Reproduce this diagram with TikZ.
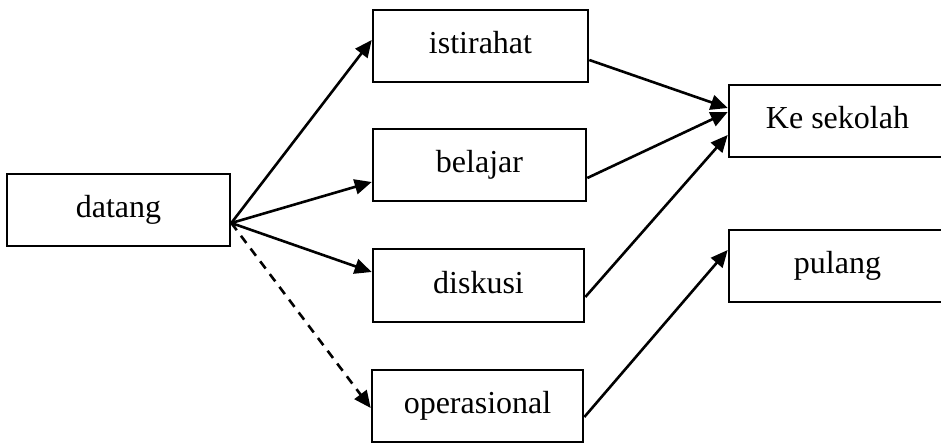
\documentclass[tikz,border=0pt]{standalone}
\usepackage{fontspec}
\setmainfont{Liberation Serif}
\usetikzlibrary{arrows.meta}
\begin{document}
\begin{tikzpicture}[x=1pt,y=-1pt,
  box/.style={draw, line width=2.6pt, rectangle, inner sep=0pt,
    minimum height=72pt, text height=22pt, text depth=6.5pt,
    font=\fontsize{32}{38}\selectfont},
  link/.style={line width=2.6pt, -{Triangle[length=17pt,width=15pt]}},
  maybe/.style={link, dash pattern=on 9pt off 7pt}]
\clip (0,0) rectangle (941,442);
\useasboundingbox (0,0) rectangle (941,442);

% activities
\node[box, minimum width=223pt] (datang) at (118.5,210) {datang};
\node[box, minimum width=215pt] (istirahat) at (480.5,46) {istirahat};
\node[box, minimum width=213pt] (belajar) at (479.5,165) {belajar};
\node[box, minimum width=211pt, minimum height=73pt] (diskusi) at (478.5,285.5) {diskusi};
\node[box, minimum width=211pt] (operasional) at (477.5,406) {operasional};
\node[box, minimum width=217pt] (sekolah) at (837.5,121) {Ke sekolah};
\node[box, minimum width=217pt] (pulang) at (837.5,266) {pulang};

% from datang
\coordinate (src) at ([yshift=-13pt]datang.east);
\draw[link] (src) -- ([yshift=6pt]istirahat.west);
\draw[link] (src) -- ([yshift=-17pt]belajar.west);
\draw[link] (src) -- ([yshift=13.5pt]diskusi.west);
\draw[maybe] (src) -- ([yshift=-2pt]operasional.west);

% to the final states
\draw[link] ([yshift=-14pt]istirahat.east) -- ([yshift=13pt]sekolah.west);
\draw[link] ([yshift=-13pt]belajar.east) -- ([yshift=9pt]sekolah.west);
\draw[link] ([yshift=-11.5pt]diskusi.east) -- ([yshift=-14pt]sekolah.west);
\draw[link] ([yshift=-11pt]operasional.east) -- ([yshift=16pt]pulang.west);
\end{tikzpicture}
\end{document}
